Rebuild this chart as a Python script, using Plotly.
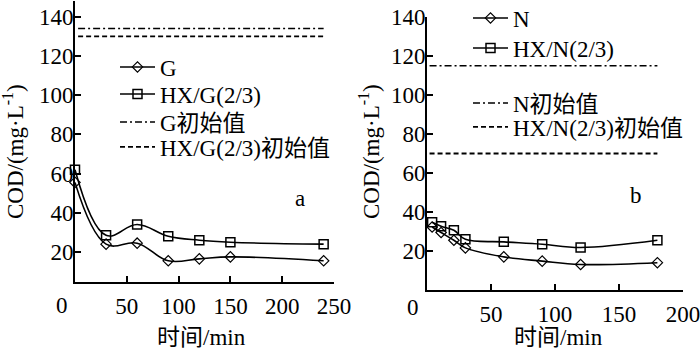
import plotly.graph_objects as go

# ---- data: panel a ----
t_a = [0, 30, 60, 90, 120, 150, 240]
g_vals = [55.5, 24, 24.5, 15.5, 16.5, 17.5, 15.5]
hxg_vals = [62, 28.5, 34, 28, 26, 25, 24]
init_span_a = [3, 240]
g_init = 134
hxg_init = 130

# ---- data: panel b ----
t_b = [4, 11, 21, 30, 60, 90, 120, 180]
n_vals = [32.3, 29.5, 25.5, 21.6, 17, 14.8, 13.1, 14]
hxn_vals = [34.7, 32.7, 30.6, 26, 24.7, 23.5, 21.8, 25.5]
init_span_b = [2, 180]
n_init = 115
hxn_init = 70

ticks_x_a = [50, 100, 150, 200, 250]
ticks_x_b = [50, 100, 150, 200]
ticks_y = [20, 40, 60, 80, 100, 120, 140]

FONT = '"Liberation Serif", "Noto Sans CJK SC", serif'
FS = 23
W, H = 700, 350


def px(x):
    return x / W


def py(y):
    return 1 - y / H


fig = go.Figure()
line_style = dict(color="black", width=1.6, shape="spline", smoothing=1.1)
dot_dash = "7px,3px,2px,3px"
dash = "5px,3px"

fig.add_trace(go.Scatter(x=t_a, y=g_vals, name="G", mode="lines+markers",
                         line=line_style,
                         marker=dict(symbol="diamond-open", size=8, color="black", line=dict(width=1.2)),
                         xaxis="x", yaxis="y", legend="legend", cliponaxis=False))
fig.add_trace(go.Scatter(x=t_a, y=hxg_vals, name="HX/G(2/3)", mode="lines+markers",
                         line=line_style,
                         marker=dict(symbol="square-open", size=9, color="black", line=dict(width=1.5)),
                         xaxis="x", yaxis="y", legend="legend2", cliponaxis=False))
fig.add_trace(go.Scatter(x=init_span_a, y=[g_init, g_init], name="G初始值", mode="lines",
                         line=dict(color="black", width=1.6, dash=dot_dash),
                         xaxis="x", yaxis="y", legend="legend3"))
fig.add_trace(go.Scatter(x=init_span_a, y=[hxg_init, hxg_init], name="HX/G(2/3)初始值", mode="lines",
                         line=dict(color="black", width=1.8, dash=dash),
                         xaxis="x", yaxis="y", legend="legend4"))

fig.add_trace(go.Scatter(x=t_b, y=n_vals, name="N", mode="lines+markers",
                         line=line_style,
                         marker=dict(symbol="diamond-open", size=8, color="black", line=dict(width=1.2)),
                         xaxis="x2", yaxis="y2", legend="legend5", cliponaxis=False))
fig.add_trace(go.Scatter(x=t_b, y=hxn_vals, name="HX/N(2/3)", mode="lines+markers",
                         line=line_style,
                         marker=dict(symbol="square-open", size=9, color="black", line=dict(width=1.5)),
                         xaxis="x2", yaxis="y2", legend="legend6", cliponaxis=False))
fig.add_trace(go.Scatter(x=init_span_b, y=[n_init, n_init], name="N初始值", mode="lines",
                         line=dict(color="black", width=1.6, dash=dot_dash),
                         xaxis="x2", yaxis="y2", legend="legend7"))
fig.add_trace(go.Scatter(x=init_span_b, y=[hxn_init, hxn_init], name="HX/N(2/3)初始值", mode="lines",
                         line=dict(color="black", width=1.8, dash=dash),
                         xaxis="x2", yaxis="y2", legend="legend8"))

axis_common = dict(showline=True, linecolor="black", linewidth=2, ticks="inside", ticklen=6,
                   tickwidth=2, tickcolor="black", showgrid=False, zeroline=False,
                   automargin=False, ticklabeloverflow="allow",
                   tickfont=dict(family=FONT, size=FS, color="black"))


def leg(x, y):
    return dict(x=px(x), y=py(y), xanchor="left", yanchor="middle", bgcolor="rgba(0,0,0,0)",
                font=dict(family=FONT, size=FS, color="black"), itemwidth=35)


fig.update_layout(
    width=W, height=H, margin=dict(l=0, r=0, t=0, b=0, pad=0, autoexpand=False),
    paper_bgcolor="white", plot_bgcolor="white",
    font=dict(family=FONT, size=FS, color="black"),
    xaxis=dict(domain=[px(75), px(334)], range=[0, 250], tickvals=ticks_x_a, anchor="y",
               ticklabelstandoff=2, **axis_common),
    yaxis=dict(domain=[py(282), py(1)], range=[4.7, 148], tickvals=ticks_y, anchor="x",
               ticklabelstandoff=-5, **axis_common),
    xaxis2=dict(domain=[px(427), px(683)], range=[0, 200], tickvals=ticks_x_b, anchor="y2",
                ticklabelstandoff=2, **axis_common),
    yaxis2=dict(domain=[py(290), py(17)], range=[0, 140], tickvals=ticks_y, anchor="x2",
                ticklabelstandoff=-5, **axis_common),
    legend=leg(115, 67),
    legend2=leg(115, 94),
    legend3=leg(115, 122),
    legend4=leg(115, 147),
    legend5=leg(468, 18),
    legend6=leg(468, 48),
    legend7=leg(468, 103),
    legend8=leg(468, 127),
    showlegend=True,
)

ann = [
    dict(text="0", x=px(62), y=py(305)),
    dict(text="0", x=px(413), y=py(307)),
    dict(text="时间/min", x=px(201), y=py(337)),
    dict(text="时间/min", x=px(558), y=py(337)),
    dict(text="a", x=px(300), y=py(198)),
    dict(text="b", x=px(636), y=py(195)),
    dict(text="COD/(mg·L<sup>-1</sup>)", x=px(13), y=py(152), textangle=-90),
    dict(text="COD/(mg·L<sup>-1</sup>)", x=px(369), y=py(152), textangle=-90),
]
for a in ann:
    fig.add_annotation(xref="paper", yref="paper", xanchor="center", yanchor="middle",
                       showarrow=False, font=dict(family=FONT, size=FS, color="black"), **a)

fig.write_html("out.html")
